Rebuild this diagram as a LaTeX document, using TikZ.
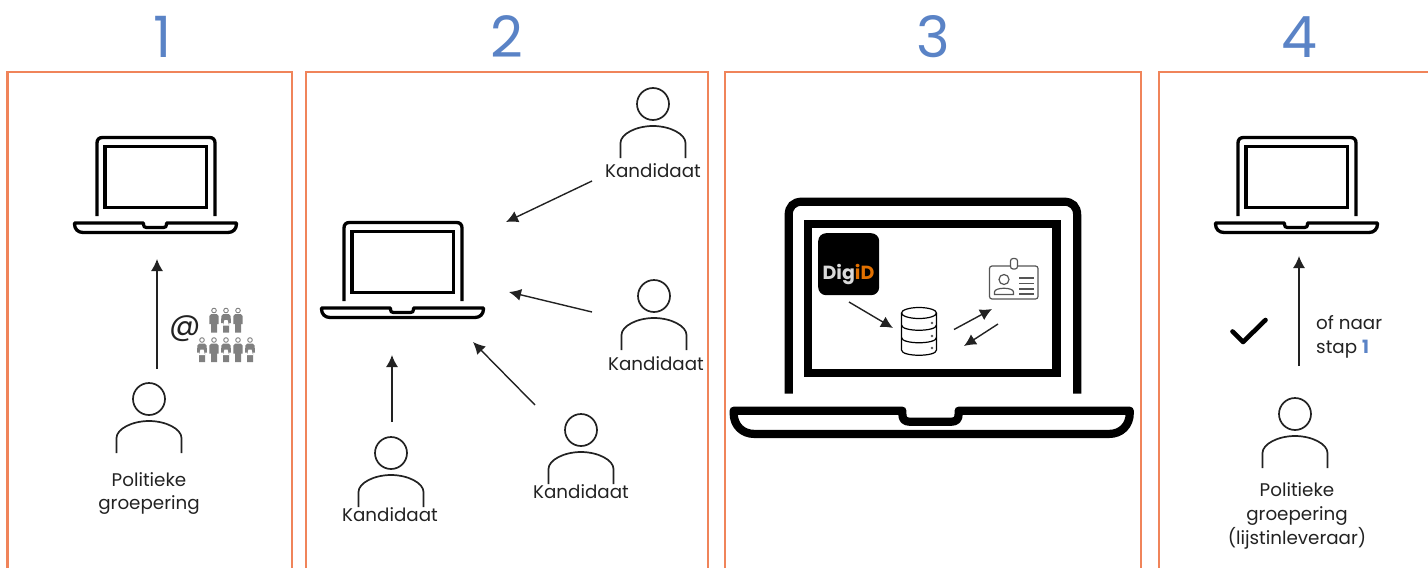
\documentclass[tikz,border=0pt]{standalone}
\usepackage{fontspec}
\setmainfont{Poppins}
\newfontfamily\numfont{Poppins}
\usetikzlibrary{arrows.meta}
\definecolor{frameorange}{HTML}{F0845A}
\definecolor{stepblue}{HTML}{5A83C6}
\definecolor{inkdark}{HTML}{222222}
\definecolor{digiorange}{HTML}{E17000}
\definecolor{digigrey}{HTML}{D9D9D9}
\definecolor{cardgrey}{HTML}{555555}
\definecolor{figgrey}{HTML}{808080}
\tikzset{
  x=1pt,y=-1pt,
  panel/.style={draw=frameorange,line width=2.6pt,line join=miter},
  stepnum/.style={text=stepblue,font=\numfont\fontsize{57}{60}\selectfont,inner sep=0pt},
  lab/.style={text=inkdark,font=\fontsize{18.3}{23.7}\selectfont,inner sep=0pt,align=center},
  flow/.style={draw=inkdark,line width=1.4pt,-{Latex[length=12pt,width=12pt]}},
  personline/.style={draw=inkdark,line width=1.7pt},
  pics/laptop/.style n args={2}{code={
    \begin{scope}[x=#1pt,y=-#1pt,line width=#2pt,draw=black,line cap=butt]
      \draw (24,80) -- (24,7) .. controls (24,3.5) and (26,1.5) .. (29.5,1.5) -- (136.5,1.5) .. controls (140,1.5) and (142,3.5) .. (142,7) -- (142,80);
      \draw (32,10.5) rectangle (133.5,71.5);
      \draw[line join=round] (1.5,87) -- (70.5,87) -- (70.5,88.5) .. controls (70.5,90.5) and (71.5,91.5) .. (73.5,91.5) -- (90.5,91.5) .. controls (92.5,91.5) and (93.5,90.5) .. (93.5,88.5) -- (93.5,87) -- (163.5,87) -- (163.5,88) .. controls (163.5,93) and (160,96.5) .. (155,96.5) -- (10,96.5) .. controls (5,96.5) and (1.5,93) .. (1.5,88) -- cycle;
    \end{scope}
  }},
  pics/person/.style={code={
    \draw[personline] (0,0) circle[radius=16];
    \draw[personline] (-32.5,54) -- (-32.5,39) .. controls (-32.5,30) and (-17,22) .. (0,22) .. controls (17,22) and (32.5,30) .. (32.5,39) -- (32.5,54);
  }},
  pics/manfig/.style={code={
    \draw[figgrey,line width=.9pt,fill=white] (0,2.5) circle[radius=2.3];
    \fill[figgrey] (-2.8,6) -- (2.8,6) -- (4.6,8) -- (4.6,16) -- (3,16) -- (3,24.5) -- (-3,24.5) -- (-3,16) -- (-4.6,16) -- (-4.6,8) -- cycle;
  }},
  pics/womanfig/.style={code={
    \draw[figgrey,line width=.9pt,fill=white] (0,2.5) circle[radius=2.3];
    \fill[figgrey] (-2.8,6) -- (2.8,6) -- (4.6,8) -- (5,15) -- (3,15) -- (3,24.5) -- (-3,24.5) -- (-3,15) -- (-5,15) -- (-4.6,8) -- cycle;
    \fill[white] (-1.5,12) -- (1.5,12) -- (3,17.5) -- (-3,17.5) -- cycle;
  }},
}
\begin{document}
\begin{tikzpicture}
\useasboundingbox (0,0) rectangle (1428,568);
% panels
\draw[panel] (7.3,568) -- (7.3,72) -- (292,72) -- (292,568);
\draw[panel] (306,568) -- (306,72) -- (708,72) -- (708,568);
\draw[panel] (725,568) -- (725,72) -- (1141,72) -- (1141,568);
\draw[panel] (1428,72) -- (1159,72) -- (1159,568);
% numbers
\node[stepnum] (n1) at (163,37) {1};
\node[stepnum] (n2) at (507,37) {2};
\node[stepnum] (n3) at (933,37) {3};
\node[stepnum] (n4) at (1299,37) {4};
% laptops
\pic at (73,136) {laptop={1}{3.3}};
\pic at (320,221) {laptop={1}{3.3}};
\pic at (730,198) {laptop={2.445}{8.2}};
\pic at (1214,136) {laptop={1}{3.3}};
% people
\pic at (149,399) {person};
\pic at (653,104) {person};
\pic at (654,296) {person};
\pic at (391,453) {person};
\pic at (581,430) {person};
\pic at (1295,414) {person};
% labels
\node[lab] (pg1) at (149,493.5) {Politieke\\groepering};
\node[lab] (k1) at (653,171) {Kandidaat};
\node[lab] (k2) at (656,364) {Kandidaat};
\node[lab] (k3) at (390,515) {Kandidaat};
\node[lab] (k4) at (581,492) {Kandidaat};
\node[lab] (pg4) at (1297,516) {Politieke\\groepering\\(lijstinleveraar)};
\node[lab,align=left,anchor=west] (step) at (1316,337) {of naar\\stap {\color{stepblue}\bfseries 1}};
% arrow ends
\coordinate (a1s) at (157,369); \coordinate (a1e) at (157,259);
\coordinate (a2s) at (592,181); \coordinate (a2e) at (506,222);
\coordinate (a3s) at (592,312); \coordinate (a3e) at (509,292);
\coordinate (a4s) at (535,405); \coordinate (a4e) at (473,342);
\coordinate (a5s) at (392,422); \coordinate (a5e) at (392,355);
\coordinate (a6s) at (849,302); \coordinate (a6e) at (893,328);
\coordinate (a7s) at (954,329.5); \coordinate (a7e) at (992,309);
\coordinate (a8s) at (998,324); \coordinate (a8e) at (964,346);
\coordinate (a9s) at (1299,366); \coordinate (a9e) at (1299,256);
\foreach \p in {1,...,9} {\draw[flow] (a\p s) -- (a\p e);}
% @ and people group
\node[text=inkdark,inner sep=0pt,font=\fontsize{31}{31}\selectfont] (at) at (185,329) {@};
\pic at (214,308) {manfig};
\pic at (226,308) {womanfig};
\pic at (238,308) {manfig};
\pic at (202,337.5) {womanfig};
\pic at (214,337.5) {manfig};
\pic at (226,337.5) {womanfig};
\pic at (238,337.5) {manfig};
\pic at (250,337.5) {womanfig};
% DigiD
\node[fill=black,rounded corners=8pt,minimum width=61pt,minimum height=62pt,inner sep=0pt,anchor=north west] (digid) at (818,233) {};
\node[inner sep=0pt,font=\fontsize{19}{20}\selectfont\bfseries] (digidt) at (848.5,274) {\textcolor{digigrey}{Dig}\textcolor{digiorange}{iD}};
% database
\draw[black,line width=1.2pt] (919,313) ellipse[x radius=17.5,y radius=5.5];
\draw[black,line width=1.2pt] (901.5,313) -- (901.5,350) .. controls (901.5,357) and (936.5,357) .. (936.5,350) -- (936.5,313);
\draw[black,line width=1.2pt] (901.5,325) .. controls (901.5,332) and (936.5,332) .. (936.5,325);
\draw[black,line width=1.2pt] (901.5,337.5) .. controls (901.5,344.5) and (936.5,344.5) .. (936.5,337.5);
\fill[cardgrey] (932,323) circle[radius=1.3] (932,336) circle[radius=1.3] (932,348) circle[radius=1.3];
% ID card
\draw[cardgrey,line width=1.2pt,rounded corners=2.5pt] (989.5,266) rectangle (1038,299);
\draw[cardgrey,line width=1.2pt,fill=white,rounded corners=2.5pt] (1010.5,258.5) rectangle (1017.5,269);
\draw[cardgrey,line width=1.2pt] (1004,279.5) circle[radius=5];
\draw[cardgrey,line width=1.2pt] (994.5,294.5) -- (994.5,292) .. controls (994.5,287) and (1013.5,287) .. (1013.5,292) -- (1013.5,294.5) -- cycle;
\foreach \ly in {278,283.5,289,294} {\draw[cardgrey,line width=1.2pt] (1019,\ly) -- (1033.5,\ly);}
% check mark
\draw[black,line width=4.6pt,line cap=round,line join=round] (1232.5,331.5) -- (1243,342) -- (1265.5,320);
\end{tikzpicture}
\end{document}
